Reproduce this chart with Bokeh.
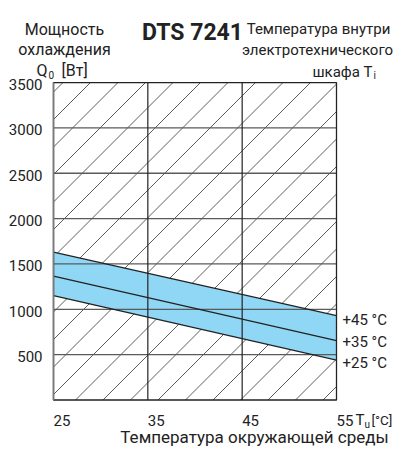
import numpy as np
from bokeh.plotting import figure
from bokeh.models import Range1d
from bokeh.core.properties import value
from bokeh.embed import file_html
from bokeh.resources import INLINE

# ---- data ----
temps = [25, 55]                 # ambient temperature Tu [°C]
q_ti25 = [1150, 440]             # cooling power at Ti = +25 °C [W]
q_ti35 = [1365, 655]             # Ti = +35 °C
q_ti45 = [1630, 930]             # Ti = +45 °C
y_ticks = [500, 1000, 1500, 2000, 2500, 3000, 3500]
y_tick_labels = ["500", "1000", "1500", "2000", "2500", "3000", "3500"]
x_ticks = [25, 35, 45, 55]
x_tick_labels = ["25", "35", "45", "55"]
series_labels = ["+45 °C", "+35 °C", "+25 °C"]

FONT = "Roboto"
DARK = "#222222"
GRID = "#5a5a5a"

W, H = 393, 447
X0, X1 = min(x_ticks), max(x_ticks)
Y0, Y1 = 0, max(y_ticks)

# layout: reference pixel -> figure pixel
def fx(ix): return ix
def fy(iy): return iy * 0.965

L, R, T, B = fx(53), fx(336), fy(85), fy(414)   # chart box in figure px
sx = (R - L) / (X1 - X0)
sy = (B - T) / (Y1 - Y0)
xs, xe = X0 - L / sx, X0 + (W - L) / sx
ys, ye = Y0 - (H - B) / sy, Y1 + T / sy

def dx(ix): return xs + fx(ix) / sx          # reference px -> data x
def dy(iy): return ys + (H - fy(iy)) / sy    # reference px -> data y

p = figure(width=W, height=H, output_backend="svg", toolbar_location=None,
           x_range=Range1d(xs, xe), y_range=Range1d(ys, ye),
           min_border=0, x_axis_type=None, y_axis_type=None)
p.outline_line_color = None
p.grid.visible = False
p.background_fill_color = "white"
p.border_fill_color = "white"

# diagonal background hatching, 45° in screen space, clipped to the chart box
cw, ch = R - L, B - T
step = 27.5
hx, hy = [], []
c = 22 - step * int((ch + 22) / step + 1)
while c < cw:
    x1, x2 = max(0.0, c), min(cw, ch + c)
    if x2 > x1:
        hx.append([X0 + x1 / sx, X0 + x2 / sx])
        hy.append([Y0 + (x1 - c) / sy, Y0 + (x2 - c) / sy])
    c += step
p.multi_line(hx, hy, line_color="#4a4a4a", line_width=0.9)

# cooling band
p.varea(x=temps, y1=q_ti25, y2=q_ti45, fill_color="#8fd7f5")

# grid
gy = y_ticks[:-1]
p.segment(x0=[X0] * len(gy), x1=[X1] * len(gy), y0=gy, y1=gy,
          line_color=GRID, line_width=1.3)
gx = x_ticks[1:-1]
p.segment(x0=gx, x1=gx, y0=[Y0] * len(gx), y1=[Y1] * len(gx),
          line_color=DARK, line_width=1.2)

for ys_ in (q_ti25, q_ti35, q_ti45):
    p.line(temps, ys_, line_color=DARK, line_width=1.3)

# frame (left edge lighter, as in the reference)
p.quad(left=[X0], right=[X1], bottom=[Y0], top=[Y1], fill_color=None,
       line_color=DARK, line_width=1.3)
p.segment(x0=[X0], x1=[X0], y0=[Y0], y1=[Y1], line_color="#7a7a7a", line_width=1.6)

F = value(FONT)

# y tick labels
p.text(x=[dx(42)] * len(y_ticks), y=y_ticks, text=y_tick_labels, text_align="right",
       text_baseline="middle", text_font=F, text_font_size="15px", text_color=DARK,
       y_offset=2)

# x tick labels (left aligned at their ticks)
p.text(x=x_ticks, y=[dy(435)] * len(x_ticks), text=x_tick_labels, text_align="left",
       text_baseline="alphabetic", text_font=F, text_font_size="15px", text_color=DARK)

# series labels at right end of lines
p.text(x=[X1] * 3, y=[q_ti45[-1], q_ti35[-1], q_ti25[-1]], text=series_labels,
       x_offset=6, y_offset=[4, 1, 3], text_align="left", text_baseline="middle",
       text_font=F, text_font_size="15px", text_color=DARK)

def txt(s, ix, iy, size="16px", align="left", style="normal"):
    p.text(x=[dx(ix)], y=[dy(iy)], text=[s], text_align=align,
           text_baseline="alphabetic", text_font=F, text_font_size=size,
           text_font_style=style, text_color=DARK)

# x-axis unit and title
txt("T", 355, 435, "15px")
txt("u", 364, 439, "10px")
txt("[°C]", 371, 435, "13.5px")
txt("Температура окружающей среды", 254, 452, "17px", "center")

# y title
txt("Мощность", 64, 30, "16px", "center")
txt("охлаждения", 64, 51, "16px", "center")
txt("Q", 36, 73, "16px")
txt("0", 48, 77, "10px")
txt("[Вт]", 61, 73, "16px")

# main title
txt("DTS 7241", 192, 33, "23px", "center", "bold")

# right title
txt("Температура внутри", 318, 30, "15px", "center")
txt("электротехнического", 317, 51, "15px", "center")
txt("шкафа T", 372, 74, "15px", "right")
txt("i", 373, 78, "10px")

open("out.html", "w").write(file_html(p, INLINE))
